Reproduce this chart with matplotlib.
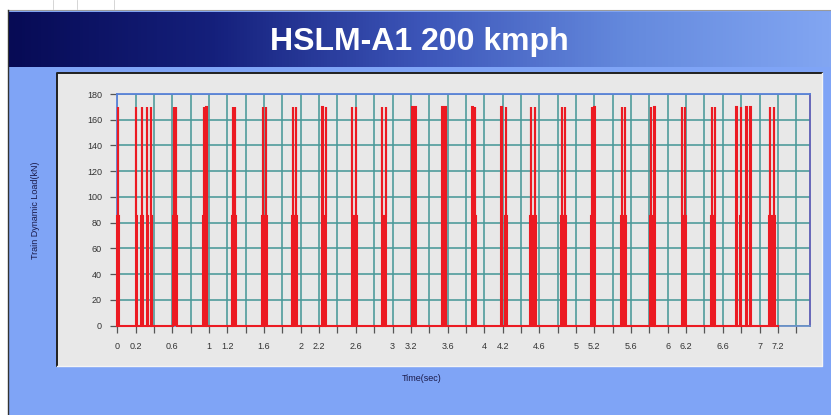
import numpy as np
import matplotlib.pyplot as plt
from matplotlib.patches import Rectangle
from matplotlib.lines import Line2D
from matplotlib.colors import LinearSegmentedColormap

W, H = 831, 415

# axle arrival times (s), one 170 kN spike each
AXLE_TIMES = [
    0.008, 0.207, 0.269, 0.327, 0.370,
    0.617, 0.642, 0.944, 0.972, 1.258, 1.282, 1.588, 1.619,
    1.914, 1.946, 2.235, 2.272, 2.561, 2.600, 2.888, 2.926,
    3.218, 3.249, 3.545, 3.576, 3.872, 3.902, 4.188, 4.237,
    4.508, 4.552, 4.848, 4.882, 5.171, 5.202, 5.498, 5.532,
    5.818, 5.857, 6.158, 6.187, 6.483, 6.512,
    6.750, 6.795, 6.856, 6.900, 7.115, 7.157,
]
# shape of one axle pulse (offset in s, load in kN)
PULSE_DT = [-0.008, -0.008, -0.002, -0.002, 0.002, 0.002, 0.008, 0.008]
PULSE_LOAD = [0, 85, 85, 170, 170, 85, 85, 0]
T_END = 7.2

XTICKS = np.round(np.arange(0, 7.41, 0.2), 1)
XLABELED = [0, 0.2, 0.6, 1, 1.2, 1.6, 2, 2.2, 2.6, 3, 3.2, 3.6, 4, 4.2,
            4.6, 5, 5.2, 5.6, 6, 6.2, 6.6, 7, 7.2]
YTICKS = [0, 20, 40, 60, 80, 100, 120, 140, 160, 180]


def px(x0, y0, x1, y1):
    return [x0 / W, 1 - y1 / H, (x1 - x0) / W, (y1 - y0) / H]


def fig_rect(fig, x0, y0, x1, y1, color):
    fig.patches.append(Rectangle((x0 / W, 1 - y1 / H), (x1 - x0) / W, (y1 - y0) / H,
                                 transform=fig.transFigure, facecolor=color,
                                 edgecolor='none', zorder=0))


def fig_line(fig, xs, ys, color, lw):
    fig.lines.append(Line2D([x / W for x in xs], [1 - y / H for y in ys],
                            transform=fig.transFigure, color=color, lw=lw,
                            zorder=0.5))


fig = plt.figure(figsize=(W / 100, H / 100), dpi=100)
fig.patch.set_facecolor('#7fa4f6')

# window chrome
fig_rect(fig, 0, 0, W, 11, 'white')
fig_rect(fig, 0, 0, 8, H, 'white')
fig_line(fig, [8, W], [10.5, 10.5], '#9a9a9a', 0.8)
fig_line(fig, [8, 8], [10, H], '#333333', 1.0)
for xx in [53, 77, 114]:
    fig_line(fig, [xx, xx], [0, 9], '#cfcfcf', 0.6)

# title banner
ban = fig.add_axes(px(8.5, 12, W, 67))
ban.set_zorder(2)
cmap = LinearSegmentedColormap.from_list(
    'banner', ['#070b55', '#15207c', '#3c55b8', '#6489dd', '#82a6f2'])
ban.imshow(np.linspace(0, 1, 256)[None, :], aspect='auto', cmap=cmap,
           extent=[0, 1, 0, 1])
ban.set_xlim(0, 1)
ban.set_ylim(0, 1)
ban.axis('off')
ban.text((419 - 8.5) / (W - 8.5), 0.46, 'HSLM-A1 200 kmph', color='white',
         fontsize=23, fontweight='bold', family='Liberation Sans',
         ha='center', va='center')

# grey chart panel with inset border
fig_rect(fig, 57, 73, 822, 366, '#e8e8e8')
fig_line(fig, [57, 57, 822], [366, 73.5, 73.5], '#202020', 1.4)
fig_line(fig, [57, 822, 822], [366, 366, 73], '#f4f4f4', 1.0)

# build the load trace from the axle list
t = [0.0]
load = [0.0]
for a in sorted(AXLE_TIMES):
    for dt, p in zip(PULSE_DT, PULSE_LOAD):
        t.append(max(a + dt, 0.0))
        load.append(p)
t.append(T_END)
load.append(0.0)

ax = fig.add_axes(px(117.3, 94, 810, 325.7))
ax.set_zorder(3)
ax.set_facecolor('#e8e8e8')
ax.plot(t, load, color='#ec1a22', lw=1.5, clip_on=False, zorder=3,
        solid_joinstyle='miter')
ax.set_xlim(0, 7.55)
ax.set_ylim(0, 180)

ax.set_xticks(XTICKS)
ax.set_xticklabels(['%g' % v if any(abs(v - l) < 1e-6 for l in XLABELED) else ''
                    for v in XTICKS])
ax.set_yticks(YTICKS)
ax.set_yticklabels([str(v) for v in YTICKS])
ax.tick_params(axis='both', direction='out', length=5, width=0.9,
               colors='#555555', labelsize=6.5, labelcolor='#333333')
ax.tick_params(axis='x', pad=7)
ax.tick_params(axis='y', pad=6)
for lab in ax.get_xticklabels() + ax.get_yticklabels():
    lab.set_family('Liberation Sans')

ax.grid(True, color='#4a9898', lw=1.15)
ax.set_axisbelow(True)
ax.spines['top'].set_color('#5a82d8')
ax.spines['left'].set_color('#5a82d8')
ax.spines['right'].set_color('#5c5cb4')
ax.spines['bottom'].set_color('#6a8fc8')
for s in ax.spines.values():
    s.set_linewidth(1.3)

fig.text(422 / W, 1 - 378 / H, 'Time(sec)', fontsize=6.5, color='#1a1a4a',
         family='Liberation Sans', ha='center', va='center')
fig.text(35 / W, 1 - 210 / H, 'Train Dynamic Load(kN)', fontsize=6.5,
         color='#1a1a4a', family='Liberation Sans', rotation=90,
         ha='center', va='center')

fig.savefig('out.png', dpi=100)
